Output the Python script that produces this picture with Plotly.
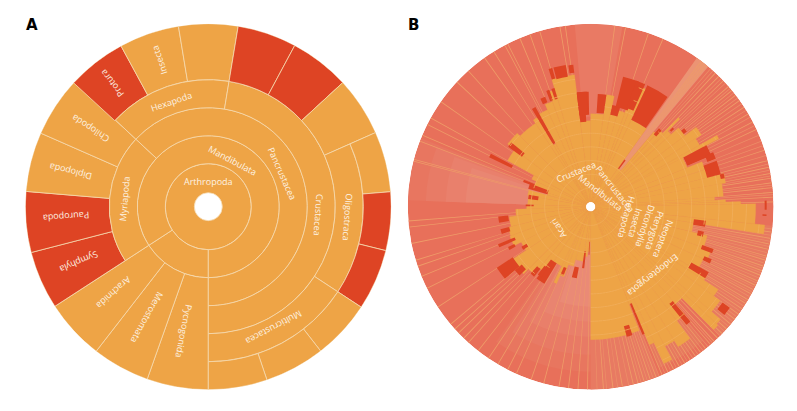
import plotly.graph_objects as go
import math

W, H = 797, 411
PAGE = 8  # the browser's default page margin around the figure
CX_A, CX_B, CY, RMAX = 208.3, 590.7, 206.7, 183

ORANGE = "#EEA446"
RED = "#DE4424"
SALMON = "#E8705A"
TEXT = "#FDF3E4"
LINE = "#F5D9AE"

# Panel A: taxon wedges (start and end angle in degrees clockwise from 12 o'clock, first and last ring)
A_START = [180, 180, 237, 180, 199.5, 217.8, 237, 255.5, 274.8, 293.7, 237, 313, 312.6, 331.5, 350.6, 313,
           9.4, 9.4, 28.2, 47.3, 66.1, 66.1, 85.3, 103.9, 123.3, 123.3, 142.1, 161.3]
A_END = [540, 237, 540, 199.5, 217.8, 237, 255.5, 274.8, 293.7, 313, 313, 540, 331.5, 350.6, 369.4, 369.4,
         180, 28.2, 47.3, 66.1, 123.3, 85.3, 103.9, 123.3, 180, 142.1, 161.3, 180]
A_RING_FROM = [0, 1, 1, 2, 2, 2, 3, 3, 3, 3, 2, 2, 4, 4, 4, 3, 3, 4, 4, 4, 4, 5, 5, 5, 4, 5, 5, 5]
A_RING_TO = [1, 2, 2, 6, 6, 6, 6, 6, 6, 6, 3, 3, 6, 6, 6, 4, 4, 6, 6, 6, 5, 6, 6, 6, 5, 6, 6, 6]
A_KIND = ["o", "o", "o", "o", "o", "o", "r", "r", "o", "o", "o", "o", "r", "o", "o", "o",
          "o", "r", "r", "o", "o", "o", "r", "r", "o", "o", "o", "o"]
A_RING_EDGES = [14, 43, 71, 99, 127, 155, 183]

A_LABELS = ["Arthropoda", "Mandibulata", "Pancrustacea", "Crustacea", "Oligostraca", "Multicrustacea", "Myriapoda",
            "Hexapoda", "Chilopoda", "Diplopoda", "Pauropoda", "Symphyla", "Arachnida", "Merostomata", "Pycnogonida",
            "Insecta", "Protura"]
A_LABEL_THETA = [0, 27.9, 65.8, 94.3, 94.4, 151.6, 275.5, 340.7, 303.5, 284.3, 266, 247, 227.8, 209, 191, 341.6, 321.9]
A_LABEL_R = [25, 52, 81, 111, 140, 138, 84, 111, 142, 142, 142, 141, 128, 127, 127, 155, 157]
A_LABEL_ROT = [0, 28, 66, 94, 94, 152, 275, 341, 213, 194, 176, 157, 138, 119, 101, 251, 232]

# Panel B: outer radius of the orange (internal) region, sector by sector
B_EDGES = [-7, 0, 8, 12, 16, 20, 22, 25, 35.5, 40, 42, 44.5, 45.5, 48, 53, 57, 60.5, 62, 68, 72, 76, 80, 85.5, 87, 88, 89,
           96, 99, 104, 110, 115, 121, 123, 126, 131, 133, 135, 139, 143, 148, 152, 155, 157, 158.5, 180,
           181, 184, 188, 196, 201, 204, 206, 214, 220, 225, 236, 243, 250, 256, 263, 268, 272, 280, 285, 288, 295,
           299, 307, 315, 326.5, 329, 331, 336, 340, 343]
B_REACH = [86, 93, 113, 96, 100, 105, 130, 96, 47, 98, 103, 125, 108, 118, 132, 125, 145, 104, 120, 128, 137, 133, 124,
           135, 150, 165, 175, 104, 120, 128, 124, 135, 152, 160, 172, 174, 129, 143, 165, 158, 173, 150, 105, 133,
           35, 45, 50, 55, 62, 75, 84, 66, 80, 88, 95, 78, 86, 85, 82, 75, 64, 63, 64, 45, 60, 65, 95, 104, 100, 104,
           72, 106, 112, 122, 133]
B_LAST_EDGE = 353

# Panel B: clades that reach the deep red state (start, end, inner and outer radius)
B_RED_START = [-7, -3, 3.6, 12, 14, 20, 25, 35.5, 41, 46, 50, 62, 66, 70, 76, 88, 92.5, 97, 102.5, 109, 113.5, 119,
               126, 139, 157, 162, 181.5, 186, 191, 201.5, 211, 215, 219, 226, 230, 237.5, 242, 246, 253, 260, 270.5, 277,
               286, 290, 296, 306, 329, 335, 339, 341.5, 343, 345, 351, 353]
B_RED_END = [-3, -1, 8, 16.5, 21, 24, 35, 37, 43, 47, 52, 67, 69, 76, 78, 91, 93, 100, 105, 111, 115.5, 122,
             129, 141, 158, 164.5, 182.5, 188, 195, 204, 217, 218, 222, 230, 237, 240, 244, 248, 256, 264, 272, 281,
             291, 292, 298, 309, 331, 337.5, 340.5, 343, 344.5, 350, 353, 358]
B_RED_R0 = [85, 92, 94, 94, 103, 105, 96, 47, 96, 110, 118, 105, 125, 120, 133, 174, 172, 104, 110, 118, 124, 115,
            163, 125, 105, 124, 35, 45, 62, 66, 66, 75, 80, 90, 93, 74, 85, 82, 84, 83, 57, 53,
            45, 60, 88, 85, 73, 113, 113, 113, 133, 132, 135, 92]
B_RED_R1 = [115, 115, 113, 104, 134, 134, 134, 58, 104, 114, 122, 131, 134, 134, 137, 176, 176, 116, 116, 130, 132, 135,
            172, 152, 138, 135, 48, 62, 73, 74, 90, 86, 90, 99, 112, 80, 92, 100, 93, 93, 65, 63,
            65, 72, 113, 102, 114, 119, 124, 124, 144, 144, 143, 115]

# Panel B: broad leaf zones beyond the internal region (start, end, inner and outer radius, shade)
B_ZONE_START = [180, 180, 180, 180, 180, 272, 272, 272, 272, 35.5, 355, 96, 140, 158]
B_ZONE_END = [215, 212, 208, 204, 198, 292, 291, 290, 288, 40, 370, 135, 157, 180]
B_ZONE_R0 = [35, 35, 35, 35, 35, 45, 45, 45, 45, 47, 90, 100, 100, 130]
B_ZONE_R1 = [165, 148, 130, 115, 100, 183, 165, 145, 125, 183, 183, 183, 175, 183]
B_ZONE_SHADE = ["#E8765F", "#E87A65", "#E97F6A", "#E98470", "#EA8A76", "#E87660", "#E87B66", "#E9806C", "#E98672",
                "#EB9474", "#E97A64", "#E87A60", "#E77A5E", "#E87A62"]

# Panel B: thin paler leaves (angle of each ray)
B_RAY_THETA = [7.6, 11, 18.4, 23.3, 37.2, 37.9, 38.6, 39.3, 43, 44.5, 46.5, 48.9, 50.5, 52.4, 54.5, 57, 59.5, 62.4,
               65, 72, 75.4, 77.5, 79.5, 81, 82.5, 84, 85.5, 87, 88.5, 98, 100, 101.8, 103.5, 105.7, 107, 109, 110.5, 112, 114,
               115.5, 117, 118.5, 120.6, 122, 124, 126, 128, 130, 132, 134, 136, 137.5, 139, 141, 143, 145, 147, 149,
               151, 153, 155, 157, 159, 161, 163, 165, 166.5, 170, 173, 176, 181, 184, 187, 190, 194.9, 199, 204, 207,
               210.5, 214, 218, 222, 224, 226.3, 228, 230, 236.7, 243.5, 247.6, 251, 253, 258.4, 263.6, 265.5, 284.4, 285,
               291, 293, 296.7, 299, 305, 313, 318, 324.5, 328, 332, 333, 337.2, 340.6, 343.8, 350.3, 352]
B_FINE_RAY_THETA = [41, 42, 45.5, 47.5, 49.7, 51.5, 53.5, 55.7, 58.2, 60.7, 63.7, 67, 69, 70.5, 73.7, 76.5, 78.5,
                    80.3, 83.2, 86.2, 97, 99, 100.9, 102.6, 104.6, 106.3, 108, 109.7, 111.2, 113, 114.7, 116.2, 117.8,
                    119.5, 121.3, 123, 125, 127, 129, 131, 133, 135, 138.2, 140, 142, 144, 146, 148, 150, 152, 154,
                    156, 158, 160, 162, 164, 168, 171.5, 175, 178]
B_RING_COUNT = 13
B_RING_STEP = 13.7
B_HOLE = 5

B_LABELS = ["Crustacea", "Pancrustacea", "Mandibulata", "Hexapoda", "Insecta", "Dicondylia", "Pterygota", "Neoptera",
            "Endopterygota", "Acari"]
B_LABEL_THETA = [338, 53, 35, 106, 110, 110, 110, 114, 137.5, 236]
B_LABEL_R = [38, 30, 17, 37, 48, 58, 68, 79, 93, 39]
B_LABEL_ROT = [338, 52, 38, 105, 105, 108, 108, 112, 142, 236]

PANEL_LETTERS = ["A", "B"]

FW, FH = W - 2 * PAGE, H - 2 * PAGE
fig = go.Figure()


def wedge(subplot, starts, ends, inner, outer, colors, line_color=None, line_width=0):
    fig.add_trace(go.Barpolar(
        subplot=subplot,
        theta=[(s + e) / 2 for s, e in zip(starts, ends)],
        width=[e - s for s, e in zip(starts, ends)],
        base=inner,
        r=[b - a for a, b in zip(inner, outer)],
        marker=dict(color=colors, line=dict(color=line_color or colors, width=line_width)),
        hoverinfo="skip",
        showlegend=False,
    ))


# Panel A
wedge("polar", A_START, A_END,
      [A_RING_EDGES[i] for i in A_RING_FROM], [A_RING_EDGES[i] for i in A_RING_TO],
      [RED if k == "r" else ORANGE for k in A_KIND], LINE, 0.8)

# Panel B
wedge("polar2", [0], [360], [B_HOLE], [RMAX], [SALMON])
wedge("polar2", B_ZONE_START, B_ZONE_END, B_ZONE_R0, B_ZONE_R1, B_ZONE_SHADE)
wedge("polar2", [t - 0.12 for t in B_FINE_RAY_THETA], [t + 0.12 for t in B_FINE_RAY_THETA],
      [B_HOLE] * len(B_FINE_RAY_THETA), [RMAX] * len(B_FINE_RAY_THETA), ["#EC8E68"] * len(B_FINE_RAY_THETA))
wedge("polar2", [t - 0.14 for t in B_RAY_THETA], [t + 0.14 for t in B_RAY_THETA],
      [B_HOLE] * len(B_RAY_THETA), [RMAX] * len(B_RAY_THETA), ["#EE9C68"] * len(B_RAY_THETA))
edges = B_EDGES + [B_LAST_EDGE]
wedge("polar2", edges[:-1], edges[1:], [B_HOLE] * len(B_REACH), B_REACH, [ORANGE] * len(B_REACH), ORANGE, 0.3)
wedge("polar2", B_RED_START, B_RED_END, B_RED_R0, B_RED_R1, [RED] * len(B_RED_START))

arc_r, arc_t = [], []
for k in range(1, B_RING_COUNT):
    radius = B_HOLE + k * B_RING_STEP
    for a, b, reach in zip(edges[:-1], edges[1:], B_REACH):
        if reach > radius:
            n = max(2, int((b - a) / 2) + 2)
            for i in range(n):
                arc_t.append(a + (b - a) * i / (n - 1))
                arc_r.append(radius)
            arc_t.append(None)
            arc_r.append(None)
fig.add_trace(go.Scatterpolar(subplot="polar2", r=arc_r, theta=arc_t, mode="lines",
                              line=dict(color="#F1AF5C", width=0.8), hoverinfo="skip", showlegend=False))


def polar_layout(cx):
    return dict(
        domain=dict(x=[(cx - PAGE - RMAX) / FW, (cx - PAGE + RMAX) / FW],
                    y=[1 - (CY - PAGE + RMAX) / FH, 1 - (CY - PAGE - RMAX) / FH]),
        bgcolor="white",
        barmode="overlay",
        bargap=0,
        radialaxis=dict(visible=False, range=[0, RMAX]),
        angularaxis=dict(visible=False, direction="clockwise", rotation=90),
    )


annotations = []


def place(labels, thetas, radii, rots, cx):
    for text, th, r, rot in zip(labels, thetas, radii, rots):
        a = math.radians(th)
        rot = ((rot + 180) % 360) - 180
        annotations.append(dict(
            text=text, showarrow=False, xref="paper", yref="paper",
            x=(cx - PAGE + r * math.sin(a)) / FW, y=1 - (CY - PAGE - r * math.cos(a)) / FH,
            xanchor="center", yanchor="middle", textangle=rot,
            font=dict(family="Open Sans", size=9, color=TEXT),
        ))


place(A_LABELS, A_LABEL_THETA, A_LABEL_R, A_LABEL_ROT, CX_A)
place(B_LABELS, B_LABEL_THETA, B_LABEL_R, B_LABEL_ROT, CX_B)
for letter, x in zip(PANEL_LETTERS, [31.5, 413]):
    annotations.append(dict(text=f"<b>{letter}</b>", showarrow=False, xref="paper", yref="paper",
                            x=(x - PAGE) / FW, y=1 - (24.5 - PAGE) / FH, xanchor="center", yanchor="middle",
                            font=dict(family="DejaVu Sans", size=15, color="black")))

fig.update_layout(
    width=FW, height=FH, margin=dict(l=0, r=0, t=0, b=0),
    paper_bgcolor="white", plot_bgcolor="white", showlegend=False,
    polar=polar_layout(CX_A), polar2=polar_layout(CX_B),
    annotations=annotations,
)
fig.write_html("out.html")
